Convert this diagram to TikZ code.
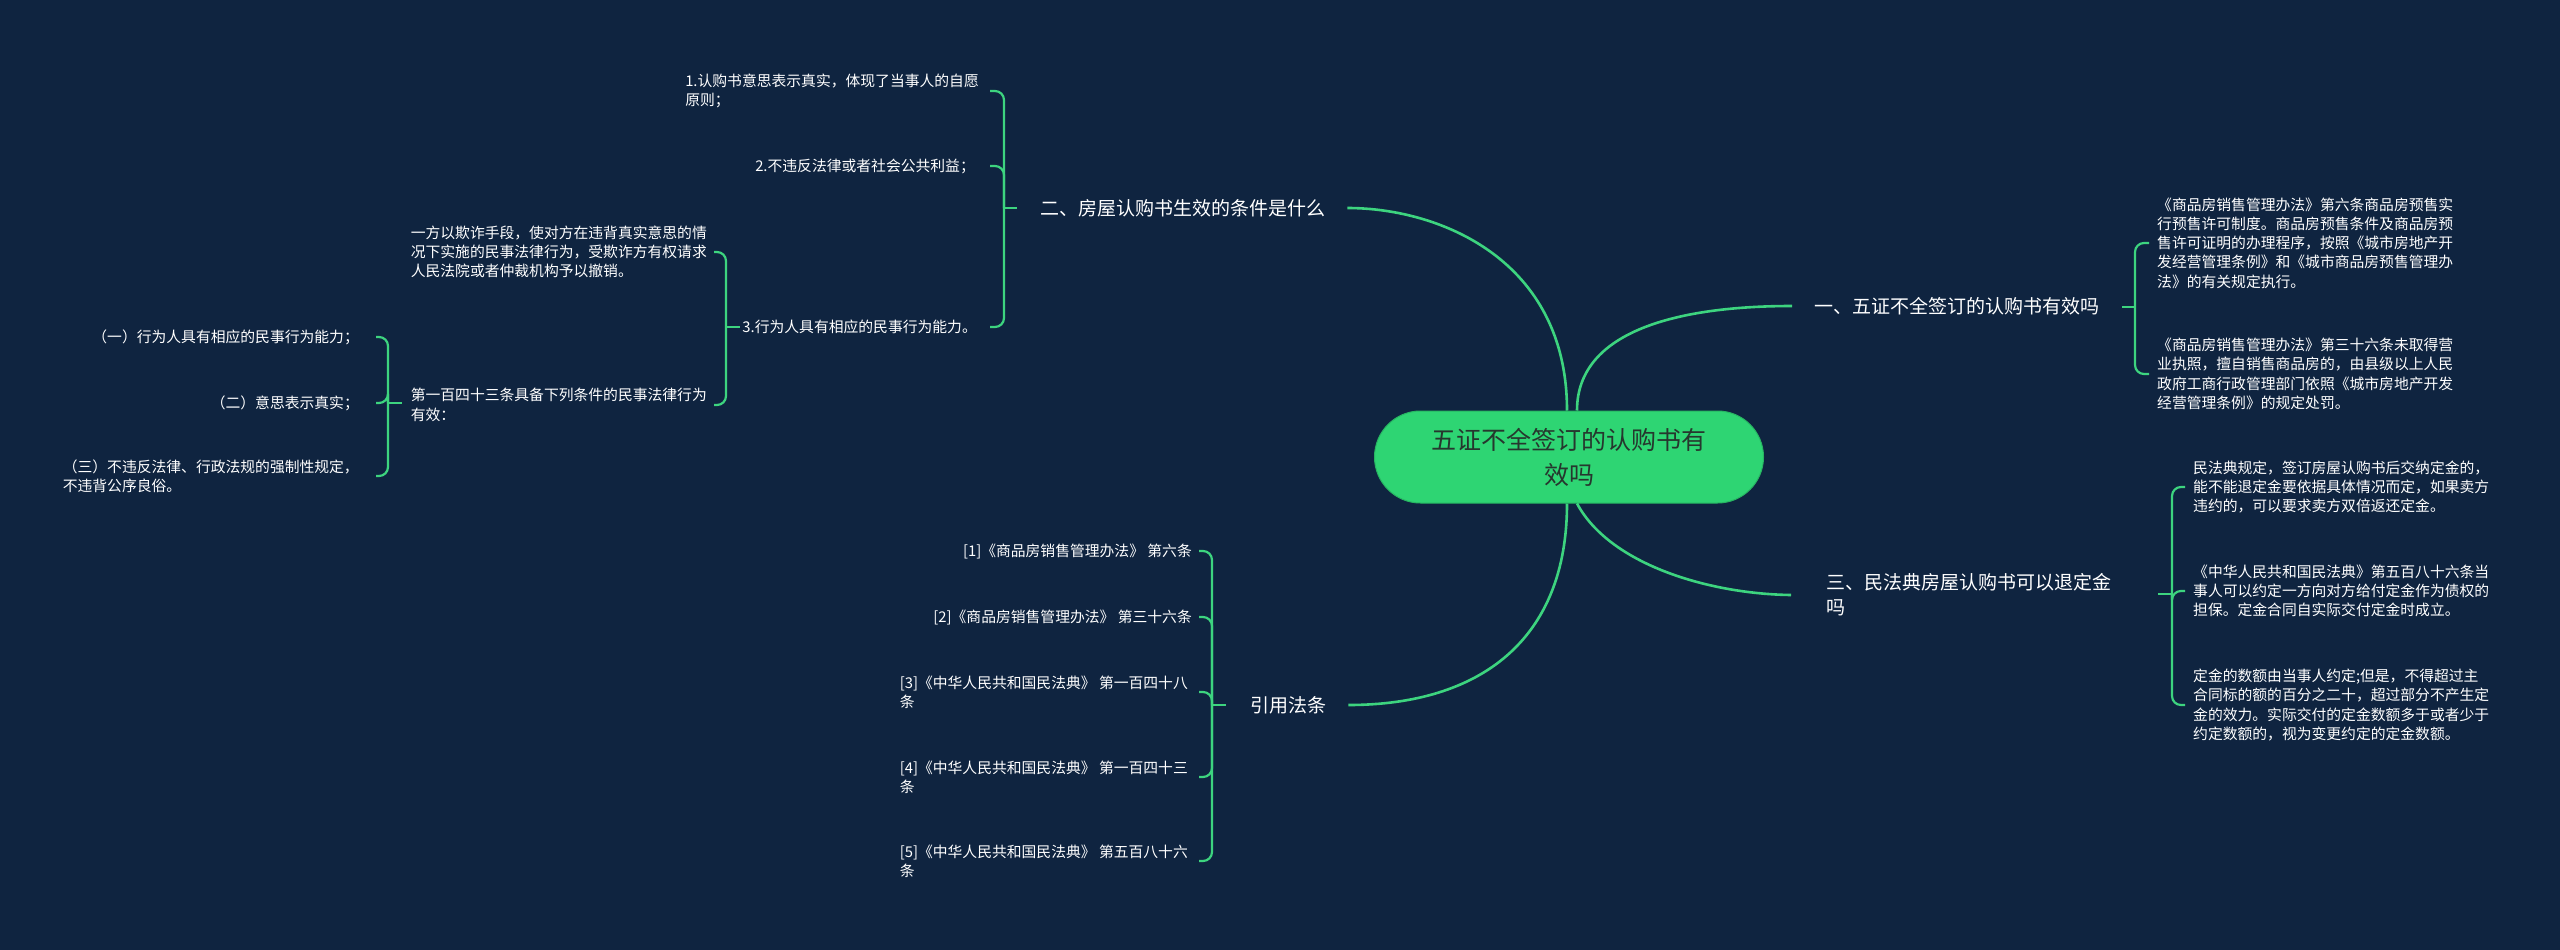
\documentclass[tikz,border=0pt]{standalone}
\usepackage{fontspec}
\setmainfont{Noto Sans CJK SC}
\definecolor{bgnavy}{HTML}{0F2440}
\definecolor{linkgreen}{HTML}{3DD47F}
\definecolor{rootgreen}{HTML}{2ED573}
\definecolor{roottext}{HTML}{26372E}
\newcommand{\leaffont}{\fontsize{14.8}{19.3}\selectfont}
\newcommand{\topicfont}{\fontsize{19}{25}\selectfont}
\newcommand{\rootfont}{\fontsize{25}{35}\selectfont}
\tikzset{leaf/.style={text=white, font=\leaffont, align=left, inner sep=0pt}}
\tikzset{topic/.style={text=white, font=\topicfont, align=left, inner sep=0pt}}
\tikzset{rootnode/.style={fill=rootgreen, draw=rootgreen!85!black, line width=1pt, text=roottext, font=\rootfont, align=center, rounded corners=46pt, minimum width=389pt, minimum height=92pt}}
\tikzset{mainlink/.style={draw=linkgreen, line width=2.6pt}}
\tikzset{bracelink/.style={draw=linkgreen, line width=2.2pt, rounded corners=9pt}}

\begin{document}
\begin{tikzpicture}[x=1pt, y=-1pt]
\fill[bgnavy] (0,0) rectangle (2560,950);
\useasboundingbox (0,0) rectangle (2560,950);

\node[rootnode] (root) at (1569,457) {五证不全签订的认购书有\\效吗};

% main topics
\node[topic, anchor=west] (n2) at (1040,208) {二、房屋认购书生效的条件是什么};
\node[topic, anchor=west] (n1) at (1814,306) {一、五证不全签订的认购书有效吗};
\node[topic, anchor=west] (n3) at (1826,595) {三、民法典房屋认购书可以退定金\\吗};
\node[topic, anchor=west] (n4) at (1250,705) {引用法条};

\draw[mainlink] ([xshift=-2pt]root.north) .. controls (1567,260) and (1440,208) .. ([xshift=22pt]n2.east);
\draw[mainlink] ([xshift=8pt]root.north) .. controls (1577,330) and (1680,306) .. ([xshift=-22pt]n1.west);
\draw[mainlink] ([xshift=-2pt]root.south) .. controls (1567,640) and (1480,705) .. ([xshift=22pt]n4.east);
\draw[mainlink] ([xshift=8pt]root.south) .. controls (1610,565) and (1710,594) .. ([xshift=-35pt]n3.west);

% 二
\node[leaf, anchor=east] (n21) at (979,91) {1.认购书意思表示真实，体现了当事人的自愿\\原则；};
\node[leaf, anchor=east] (n22) at (975,166) {2.不违反法律或者社会公共利益；};
\node[leaf, anchor=east] (n23) at (977,327) {3.行为人具有相应的民事行为能力。};
\coordinate (h2) at (990,0);
\coordinate (s2) at (1004,208);
\foreach \c in {n21,n22,n23} \draw[bracelink] (\c.east -| h2) -| (s2);
\draw[bracelink] (s2) -- ++(13,0);

\node[leaf, anchor=east] (n231) at (707,252) {一方以欺诈手段，使对方在违背真实意思的情\\况下实施的民事法律行为，受欺诈方有权请求\\人民法院或者仲裁机构予以撤销。};
\node[leaf, anchor=east] (n232) at (707,405) {第一百四十三条具备下列条件的民事法律行为\\有效：};
\coordinate (h23) at (714,0);
\coordinate (s23) at (726,327);
\foreach \c in {n231,n232} \draw[bracelink] (\c.east -| h23) -| (s23);
\draw[bracelink] (s23) -- ++(14,0);

\node[leaf, anchor=east] (n2321) at (359,337) {（一）行为人具有相应的民事行为能力；};
\node[leaf, anchor=east] (n2322) at (359,403) {（二）意思表示真实；};
\node[leaf, anchor=east] (n2323) at (359,476) {（三）不违反法律、行政法规的强制性规定，\\不违背公序良俗。};
\coordinate (h232) at (376,0);
\coordinate (s232) at (388,403);
\foreach \c in {n2321,n2322,n2323} \draw[bracelink] (\c.east -| h232) -| (s232);
\draw[bracelink] (s232) -- ++(14,0);

% 一
\node[leaf, anchor=west] (n11) at (2157,243) {《商品房销售管理办法》第六条商品房预售实\\行预售许可制度。商品房预售条件及商品房预\\售许可证明的办理程序，按照《城市房地产开\\发经营管理条例》和《城市商品房预售管理办\\法》的有关规定执行。};
\node[leaf, anchor=west] (n12) at (2157,374) {《商品房销售管理办法》第三十六条未取得营\\业执照，擅自销售商品房的，由县级以上人民\\政府工商行政管理部门依照《城市房地产开发\\经营管理条例》的规定处罚。};
\coordinate (h1) at (2149,0);
\coordinate (s1) at (2135,307);
\foreach \c in {n11,n12} \draw[bracelink] (\c.west -| h1) -| (s1);
\draw[bracelink] (s1) -- ++(-13,0);

% 三
\node[leaf, anchor=west] (n31) at (2193,487) {民法典规定，签订房屋认购书后交纳定金的，\\能不能退定金要依据具体情况而定，如果卖方\\违约的，可以要求卖方双倍返还定金。};
\node[leaf, anchor=west] (n32) at (2193,591) {《中华人民共和国民法典》第五百八十六条当\\事人可以约定一方向对方给付定金作为债权的\\担保。定金合同自实际交付定金时成立。};
\node[leaf, anchor=west] (n33) at (2193,705) {定金的数额由当事人约定;但是，不得超过主\\合同标的额的百分之二十，超过部分不产生定\\金的效力。实际交付的定金数额多于或者少于\\约定数额的，视为变更约定的定金数额。};
\coordinate (h3) at (2185,0);
\coordinate (s3) at (2172,594);
\foreach \c in {n31,n32,n33} \draw[bracelink] (\c.west -| h3) -| (s3);
\draw[bracelink] (s3) -- ++(-14,0);

% 引用法条
\node[leaf, anchor=east] (n41) at (1192,551) {[1]《商品房销售管理办法》 第六条};
\node[leaf, anchor=east] (n42) at (1192,617) {[2]《商品房销售管理办法》 第三十六条};
\node[leaf, anchor=east] (n43) at (1188,692) {[3]《中华人民共和国民法典》 第一百四十八\\条};
\node[leaf, anchor=east] (n44) at (1188,777) {[4]《中华人民共和国民法典》 第一百四十三\\条};
\node[leaf, anchor=east] (n45) at (1188,861) {[5]《中华人民共和国民法典》 第五百八十六\\条};
\coordinate (h4) at (1199,0);
\coordinate (s4) at (1212,705);
\foreach \c in {n41,n42,n43,n44,n45} \draw[bracelink] (\c.east -| h4) -| (s4);
\draw[bracelink] (s4) -- ++(14,0);
\end{tikzpicture}
\end{document}
